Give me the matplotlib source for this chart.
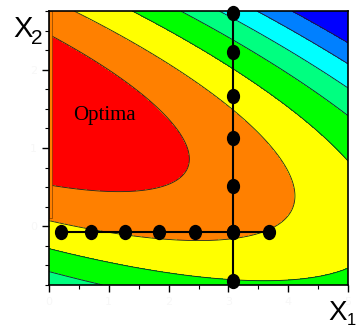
import numpy as np
import matplotlib.pyplot as plt
from matplotlib.markers import MarkerStyle
from matplotlib.transforms import Affine2D

# Response surface (quadratic model in coded units u, v in [0, 1])
# f = b0 + bv*v + bvv*v^2 + bu*u + buv*u*v + buu*u^2
b0, bv, bvv = 3.734, -14.312, 11.187
bu, buv, buu = -4.254, 8.561, 2.862
levels = [0.0, 0.99, 2.03, 3.06, 3.99, 4.99, 6.0]
colors = ['#FF0000', '#FF8000', '#FFFF00', '#00FF00', '#00FF80', '#00FFFF', '#0080FF', '#0000FF']

# One-factor-at-a-time points
x_row = [0.20, 0.70, 1.27, 1.84, 2.44, 3.08, 3.68]
y_row = -0.07
x_col = 3.08
y_col = [2.72, 2.23, 1.66, 1.13, 0.51, -0.07, -0.70]

xmin, xmax = 0, 5
ymin, ymax = -0.75, 2.75

fig = plt.figure(figsize=(3.62, 3.27), dpi=100)
ax = fig.add_axes([49/362, 1-285/327, 299/362, 274/327])

X, Y = np.meshgrid(np.linspace(xmin, xmax, 300), np.linspace(ymin, ymax, 300))
U = (X - xmin) / (xmax - xmin)
V = (Y - ymin) / (ymax - ymin)
Z = b0 + bv*V + bvv*V**2 + bu*U + buv*U*V + buu*U**2

ax.contourf(X, Y, Z, levels=[-100] + levels + [100], colors=colors)
ax.contour(X, Y, Z, levels=levels, colors='#202020', linewidths=0.6)

# thin orange strip on the left edge
ax.add_patch(plt.Rectangle((0, 0.11), 0.05, ymax - 0.11, facecolor='#FF8000',
                           edgecolor='#603000', linewidth=0.4, zorder=2))

# lines and points
dot = MarkerStyle('o', transform=Affine2D().scale(0.85, 1.0))
ax.plot(x_row, [y_row]*len(x_row), color='black', linewidth=1.5, zorder=4)
ax.plot([x_col]*len(y_col), y_col, color='black', linewidth=1.5, zorder=4, clip_on=False)
ax.plot(x_row, [y_row]*len(x_row), linestyle='none', marker=dot, markersize=10,
        color='black', zorder=5)
ax.plot([x_col]*len(y_col), y_col, linestyle='none', marker=dot, markersize=10,
        color='black', zorder=5, clip_on=False)

ax.text(0.92, 1.42, 'Optima', family='Liberation Serif', fontsize=15,
        ha='center', va='center', zorder=6)

ax.set_xlim(xmin, xmax)
ax.set_ylim(ymin, ymax)
ax.set_xticks(np.arange(0, 5.01, 1))
ax.set_xticks(np.arange(0, 5.01, 0.5), minor=True)
ax.set_yticks([0, 1, 2])
ax.set_yticks(np.arange(-0.75, 2.76, 0.25), minor=True)
ax.tick_params(which='major', length=5, width=1, direction='out',
               labelsize=8, labelcolor='#f7f7f7')
ax.tick_params(which='minor', length=3, width=0.8, direction='out')
for s in ax.spines.values():
    s.set_linewidth(1.2)
    s.set_color('black')

# axis names
fig.text(13/362, 1-37/327, 'X', family='Liberation Sans', fontsize=21, va='baseline')
fig.text(31/362, 1-44/327, '2', family='Liberation Sans', fontsize=15, va='baseline')
fig.text(328/362, 1-320/327, 'X', family='Liberation Sans', fontsize=20, va='baseline')
fig.text(347/362, 1-325/327, '1', family='Liberation Sans', fontsize=12, va='baseline')

fig.savefig('out.png', dpi=100)
